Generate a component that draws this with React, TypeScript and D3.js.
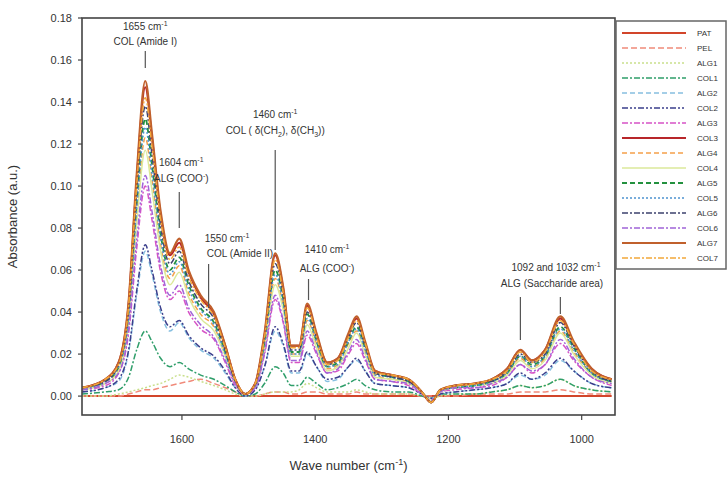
import React from "react";
import * as d3 from "d3";

const wavenumbers = [1750, 1715, 1695, 1680, 1668, 1655, 1645, 1632, 1618, 1604, 1590, 1572, 1552, 1535, 1520, 1505, 1490, 1476, 1460, 1448, 1436, 1424, 1412, 1398, 1382, 1366, 1350, 1338, 1325, 1310, 1285, 1260, 1240, 1226, 1212, 1190, 1160, 1135, 1112, 1092, 1075, 1055, 1032, 1012, 985, 955];

const PAT = [0, 0, 0, 0, 0, 0, 0, 0, 0, 0, 0, 0, 0, 0, 0, 0, 0, 0, 0, 0, 0, 0, 0, 0, 0, 0, 0, 0, 0, 0, 0, 0, 0, 0, 0, 0, 0, 0, 0, 0, 0, 0, 0, 0, 0, 0];
const PEL = [.000, .000, .000, .001, .002, .003, .003, .004, .005, .006, .007, .008, .006, .004, .002, .000, .000, .001, .002, .002, .001, .001, .002, .002, .001, .001, .001, .002, .001, .001, .001, .001, .000, .000, .000, .000, .001, .001, .001, .002, .002, .002, .003, .002, .001, .001];
const ALG1 = [.000, .000, .001, .002, .003, .004, .005, .006, .008, .010, .009, .007, .005, .003, .001, .000, .000, .001, .002, .002, .002, .003, .006, .004, .002, .002, .002, .003, .002, .001, .001, .001, .000, -.001, .000, .001, .001, .002, .003, .005, .004, .005, .008, .005, .003, .002];
const COL1 = [.001, .002, .003, .009, .022, .031, .026, .018, .014, .016, .013, .010, .008, .005, .002, .000, .001, .006, .014, .011, .005, .005, .009, .006, .003, .004, .006, .008, .005, .003, .002, .002, .000, -.001, .001, .001, .001, .002, .003, .005, .004, .005, .008, .005, .003, .002];
const ALG2 = [.002, .004, .007, .021, .048, .069, .058, .040, .031, .035, .028, .022, .018, .011, .004, .000, .003, .014, .031, .024, .011, .011, .020, .014, .007, .008, .014, .017, .012, .006, .005, .004, .001, -.001, .001, .002, .003, .004, .006, .010, .008, .010, .017, .012, .006, .004];
const COL2 = [.002, .004, .008, .022, .050, .072, .060, .042, .033, .036, .029, .023, .019, .012, .004, .000, .003, .014, .033, .025, .012, .012, .021, .014, .008, .009, .014, .018, .012, .006, .005, .004, .001, -.001, .001, .002, .003, .004, .006, .011, .008, .011, .018, .012, .006, .004];
const ALG3 = [.003, .005, .011, .030, .070, .100, .084, .059, .046, .050, .040, .032, .027, .016, .005, .001, .004, .020, .046, .035, .016, .016, .029, .020, .011, .012, .020, .025, .017, .008, .007, .005, .001, -.002, .002, .003, .004, .005, .009, .015, .011, .015, .025, .017, .009, .005];
const COL3 = [.004, .008, .016, .044, .103, .147, .123, .086, .067, .073, .059, .047, .039, .024, .008, .001, .006, .029, .067, .051, .024, .024, .043, .029, .016, .018, .029, .037, .025, .012, .010, .008, .002, -.003, .003, .005, .006, .008, .013, .022, .017, .022, .037, .025, .013, .008];
const ALG4 = [.003, .007, .013, .037, .086, .123, .103, .072, .056, .062, .049, .039, .033, .020, .007, .001, .005, .025, .056, .043, .020, .020, .036, .025, .013, .015, .025, .031, .021, .010, .008, .007, .002, -.003, .003, .004, .005, .007, .011, .018, .014, .018, .031, .021, .011, .007];
const COL4 = [.003, .006, .012, .035, .082, .117, .098, .069, .053, .059, .047, .037, .031, .019, .006, .001, .005, .023, .053, .041, .019, .019, .034, .023, .012, .014, .023, .030, .020, .009, .008, .006, .002, -.002, .002, .004, .005, .006, .010, .017, .013, .017, .030, .020, .010, .006];
const ALG5 = [.004, .007, .014, .040, .092, .132, .110, .077, .060, .066, .053, .042, .035, .021, .007, .001, .005, .026, .060, .046, .021, .021, .039, .026, .014, .016, .026, .033, .023, .011, .009, .007, .002, -.003, .003, .004, .005, .007, .011, .019, .015, .019, .033, .023, .011, .007];
const COL5 = [.003, .007, .014, .038, .089, .128, .106, .075, .058, .064, .051, .041, .034, .020, .007, .001, .005, .026, .058, .044, .020, .020, .037, .026, .014, .015, .026, .032, .022, .010, .009, .007, .002, -.003, .003, .004, .005, .007, .011, .019, .014, .019, .032, .022, .011, .007];
const ALG6 = [.004, .007, .015, .041, .097, .138, .115, .081, .063, .069, .055, .044, .037, .022, .007, .001, .006, .028, .063, .048, .022, .022, .040, .028, .015, .017, .028, .035, .024, .011, .009, .007, .002, -.003, .003, .005, .006, .007, .012, .020, .016, .020, .035, .024, .012, .007];
const COL6 = [.003, .006, .011, .032, .074, .105, .088, .062, .048, .053, .042, .034, .028, .017, .006, .001, .004, .021, .048, .036, .017, .017, .031, .021, .011, .013, .021, .027, .018, .008, .007, .006, .001, -.002, .002, .004, .004, .006, .009, .015, .012, .015, .027, .018, .009, .006];
const ALG7 = [.004, .008, .016, .045, .105, .150, .125, .088, .068, .075, .060, .048, .040, .024, .008, .001, .006, .030, .068, .052, .024, .024, .044, .030, .016, .018, .030, .038, .026, .012, .010, .008, .002, -.003, .003, .005, .006, .008, .013, .022, .017, .022, .038, .026, .013, .008];
const COL7 = [.004, .008, .015, .043, .100, .142, .119, .084, .065, .071, .057, .046, .038, .023, .008, .001, .006, .028, .065, .049, .023, .023, .042, .028, .015, .017, .028, .036, .025, .011, .010, .008, .002, -.003, .003, .005, .006, .008, .012, .021, .016, .021, .036, .025, .012, .008];

const seriesNames = ["PAT", "PEL", "ALG1", "COL1", "ALG2", "COL2", "ALG3", "COL3", "ALG4", "COL4", "ALG5", "COL5", "ALG6", "COL6", "ALG7", "COL7"];
const seriesValues = [PAT, PEL, ALG1, COL1, ALG2, COL2, ALG3, COL3, ALG4, COL4, ALG5, COL5, ALG6, COL6, ALG7, COL7];

const xTicks = [1600, 1400, 1200, 1000];
const yTicks = [0.0, 0.02, 0.04, 0.06, 0.08, 0.1, 0.12, 0.14, 0.16, 0.18];

const annotationWaves = [1655, 1604, 1560, 1460, 1410, 1092, 1032];

const styles = [
  { color: "#d2452a", dash: "", w: 2 },
  { color: "#f08a7a", dash: "6,3", w: 1.5 },
  { color: "#c9df8c", dash: "2,2", w: 1.5 },
  { color: "#2f9e6a", dash: "6,2,2,2", w: 1.5 },
  { color: "#86bfe0", dash: "5,3", w: 1.5 },
  { color: "#3b3f8c", dash: "6,2,2,2,2,2", w: 1.5 },
  { color: "#d653c6", dash: "6,2,2,2", w: 1.5 },
  { color: "#b8262a", dash: "", w: 2 },
  { color: "#f5a04a", dash: "5,3", w: 1.5 },
  { color: "#dbe99a", dash: "", w: 1.5 },
  { color: "#23913f", dash: "5,3", w: 1.8 },
  { color: "#4d93d0", dash: "2,2", w: 1.5 },
  { color: "#3d416e", dash: "6,2,2,2", w: 1.5 },
  { color: "#a064d8", dash: "6,2,2,2", w: 1.5 },
  { color: "#c0602c", dash: "", w: 2.2 },
  { color: "#f2a83a", dash: "6,2,2,2", w: 1.5 },
];

const W = 728;
const H = 482;
const M = { left: 82, right: 615, top: 18, bottom: 415 };

export default function App() {
  const x = d3.scaleLinear().domain([1750, 950]).range([M.left, M.right]);
  const y = d3.scaleLinear().domain([-0.009, 0.18]).range([M.bottom, M.top]);
  const line = d3
    .line<number>()
    .x((_, i) => x(wavenumbers[i]))
    .y((d) => y(d))
    .curve(d3.curveMonotoneX);

  const font = "Liberation Sans, Arial, sans-serif";
  const ax = annotationWaves.map((w) => x(w));
  const sup = (t: string) => <tspan dy={-4} fontSize={7}>{t}</tspan>;

  return (
    <svg
      width={W}
      height={H}
      style={{ position: "absolute", left: 0, top: 0, background: "#fff" }}
      fontFamily={font}
    >
      <defs>
        <clipPath id="plot">
          <rect x={M.left} y={M.top} width={M.right - M.left} height={M.bottom - M.top} />
        </clipPath>
      </defs>

      <g clipPath="url(#plot)">
        {seriesValues.map((vals, i) => (
          <path
            key={seriesNames[i]}
            d={line(vals) || ""}
            fill="none"
            stroke={styles[i].color}
            strokeWidth={styles[i].w}
            strokeDasharray={styles[i].dash}
          />
        ))}
      </g>

      {/* annotations */}
      <g fill="#333" stroke="none" fontSize={10} textAnchor="middle">
        <text x={ax[0]} y={30}>1655 cm{sup("-1")}</text>
        <text x={ax[0]} y={45}>COL (Amide I)</text>
        <line x1={ax[0]} x2={ax[0]} y1={51} y2={68} stroke="#555" strokeWidth={1.2} />

        <text x={ax[1] + 2} y={166}>1604 cm{sup("-1")}</text>
        <text x={ax[1] + 2} y={182}>ALG (COO{sup("-")}<tspan dy={4}>)</tspan></text>
        <line x1={ax[1]}  x2={ax[1]} y1={192} y2={228} stroke="#555" strokeWidth={1.2} />

        <text x={227} y={242}>1550 cm{sup("-1")}</text>
        <text x={240} y={257}>COL (Amide II)</text>
        <line x1={ax[2]} x2={ax[2]} y1={264} y2={308} stroke="#555" strokeWidth={1.2} />

        <text x={ax[3]} y={118}>1460 cm{sup("-1")}</text>
        <text x={ax[3]} y={134}>COL ( δ(CH<tspan dy={3} fontSize={7}>2</tspan><tspan dy={-3}>), δ(CH</tspan><tspan dy={3} fontSize={7}>3</tspan><tspan dy={-3}>))</tspan></text>
        <line x1={ax[3]} x2={ax[3]} y1={150} y2={250} stroke="#555" strokeWidth={1.2} />

        <text x={327} y={253}>1410 cm{sup("-1")}</text>
        <text x={327} y={272}>ALG (COO{sup("-")}<tspan dy={4}>)</tspan></text>
        <line x1={ax[4]} x2={ax[4]} y1={279} y2={300} stroke="#555" strokeWidth={1.2} />

        <text x={556} y={271}>1092 and 1032 cm{sup("-1")}</text>
        <text x={552} y={287}>ALG (Saccharide area)</text>
        <line x1={ax[5]} x2={ax[5]} y1={297} y2={340} stroke="#555" strokeWidth={1.2} />
        <line x1={ax[6]} x2={ax[6]} y1={297} y2={314} stroke="#555" strokeWidth={1.2} />
      </g>

      {/* frame */}
      <rect
        x={M.left}
        y={M.top}
        width={M.right - M.left}
        height={M.bottom - M.top}
        fill="none"
        stroke="#444"
        strokeWidth={1.6}
      />

      {/* x axis */}
      <g fontSize={11} fill="#333" textAnchor="middle">
        {xTicks.map((t) => (
          <g key={t}>
            <line x1={x(t)} x2={x(t)} y1={M.bottom} y2={M.bottom + 5} stroke="#444" strokeWidth={1.2} />
            <text x={x(t)} y={M.bottom + 28}>{t}</text>
          </g>
        ))}
      </g>
      <text x={(M.left + M.right) / 2} y={470} fontSize={13} textAnchor="middle" fill="#333">
        Wave number (cm<tspan dy={-5} fontSize={9}>-1</tspan><tspan dy={5}>)</tspan>
      </text>

      {/* y axis */}
      <g fontSize={11} fill="#333" textAnchor="end">
        {yTicks.map((t) => (
          <g key={t}>
            <line x1={M.left - 4} x2={M.left} y1={y(t)} y2={y(t)} stroke="#444" strokeWidth={1.2} />
            <text x={M.left - 10} y={y(t) + 4}>{t.toFixed(2)}</text>
          </g>
        ))}
      </g>
      <text
        transform={`translate(17,${(M.top + M.bottom) / 2}) rotate(-90)`}
        fontSize={13}
        textAnchor="middle"
        fill="#333"
      >
        Absorbance (a.u.)
      </text>

      {/* legend */}
      <rect x={616} y={21} width={110} height={248} fill="#fff" stroke="#666" strokeWidth={1.5} />
      {seriesNames.map((n, i) => {
        const ly = 33 + i * 15;
        return (
          <g key={n}>
            <line
              x1={622}
              x2={686}
              y1={ly}
              y2={ly}
              stroke={styles[i].color}
              strokeWidth={styles[i].w}
              strokeDasharray={styles[i].dash}
            />
            <text x={697} y={ly + 3} fontSize={8} fill="#333">{n}</text>
          </g>
        );
      })}
    </svg>
  );
}
